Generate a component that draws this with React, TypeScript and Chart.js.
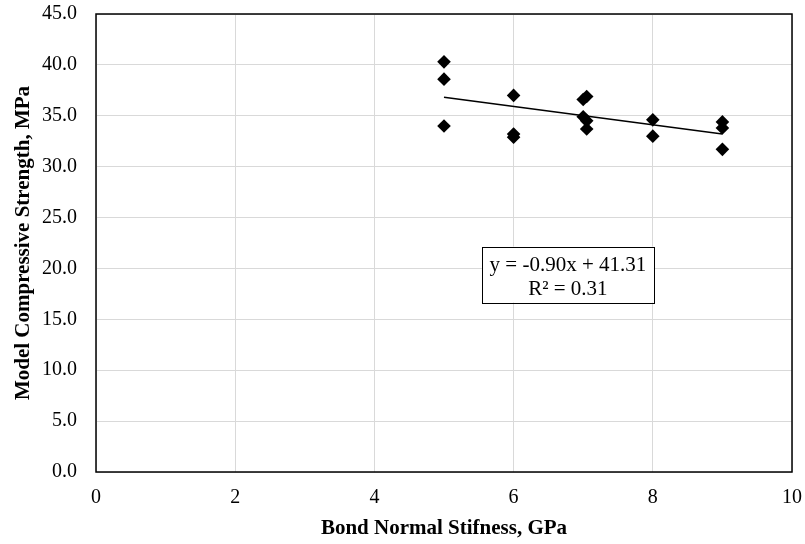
import React, { useEffect, useRef } from "react";
import { Chart, registerables } from "chart.js";

Chart.register(...registerables);

const stiffness = [5, 5, 5, 6, 6, 6, 7.0, 7.05, 7.0, 7.05, 7.05, 8, 8, 9, 9, 9];
const strength = [40.3, 38.6, 34.0, 37.0, 33.2, 32.9, 36.6, 36.9, 34.9, 34.5, 33.7, 34.6, 33.0, 34.4, 33.8, 31.7];
const trendSlope = -0.9;
const trendIntercept = 41.31;
const trendRange = [5, 9];
const equationLines = ["y = -0.90x + 41.31", "R² = 0.31"];
const equationAnchor = { x: 6.78, y: 19.4 };
const xTitle = "Bond Normal Stifness, GPa";
const yTitle = "Model Compressive Strength, MPa";

const FONT = "'Liberation Serif', 'Times New Roman', serif";

const frameAndBox = {
  id: "frameAndBox",
  beforeDatasetsDraw(chart: any) {
    const { ctx, chartArea } = chart;
    ctx.save();
    ctx.strokeStyle = "#000";
    ctx.lineWidth = 1.5;
    ctx.strokeRect(chartArea.left, chartArea.top, chartArea.right - chartArea.left, chartArea.bottom - chartArea.top);
    ctx.restore();
  },
  afterDraw(chart: any) {
    const { ctx, scales } = chart;
    const cx = scales.x.getPixelForValue(equationAnchor.x);
    const cy = scales.y.getPixelForValue(equationAnchor.y);
    ctx.save();
    ctx.font = `21px ${FONT}`;
    const w = 172;
    const h = 56;
    ctx.fillStyle = "#fff";
    ctx.fillRect(cx - w / 2, cy - h / 2, w, h);
    ctx.strokeStyle = "#000";
    ctx.lineWidth = 1;
    ctx.strokeRect(Math.round(cx - w / 2) + 0.5, Math.round(cy - h / 2) + 0.5, w, h);
    ctx.fillStyle = "#000";
    ctx.textAlign = "center";
    ctx.textBaseline = "middle";
    ctx.fillText(equationLines[0], cx, cy - 9);
    ctx.fillText(equationLines[1], cx, cy + 15);
    ctx.restore();
  },
};

export default function App() {
  const ref = useRef<HTMLCanvasElement>(null);
  useEffect(() => {
    if (!ref.current) return;
    const points = stiffness.map((x, i) => ({ x, y: strength[i] }));
    const trend = trendRange.map((x) => ({ x, y: trendSlope * x + trendIntercept }));
    const chart = new Chart(ref.current, {
      type: "scatter",
      data: {
        datasets: [
          {
            label: "data",
            data: points,
            pointStyle: "rectRot",
            pointRadius: 6.8,
            pointHoverRadius: 6.8,
            backgroundColor: "#000",
            borderColor: "#000",
            borderWidth: 0,
            showLine: false,
          },
          {
            label: "trend",
            data: trend,
            showLine: true,
            borderColor: "#000",
            borderWidth: 1.5,
            pointRadius: 0,
            fill: false,
          },
        ],
      },
      options: {
        animation: false,
        responsive: true,
        maintainAspectRatio: false,
        layout: { padding: { left: 0, top: 14, right: 13, bottom: 0 } },
        plugins: { legend: { display: false }, tooltip: { enabled: false } },
        scales: {
          x: {
            type: "linear",
            min: 0,
            max: 10,
            afterFit: (s: any) => { s.height = 72; s.paddingLeft = 0; s.paddingRight = 0; },
            ticks: { stepSize: 2, color: "#000", font: { family: FONT, size: 20 }, padding: 14 },
            grid: { color: "#d9d9d9", lineWidth: 1, drawTicks: false },
            border: { display: false },
            title: { display: true, text: xTitle, color: "#000", font: { family: FONT, size: 21, weight: "bold" }, padding: { top: 0, bottom: 3 } },
          },
          y: {
            type: "linear",
            min: 0,
            max: 45,
            afterFit: (s: any) => { s.width = 96; s.paddingTop = 0; s.paddingBottom = 0; },
            ticks: { stepSize: 5, color: "#000", font: { family: FONT, size: 20 }, padding: 19, callback: (v: any) => Number(v).toFixed(1) },
            grid: { color: "#d9d9d9", lineWidth: 1, drawTicks: false },
            border: { display: false },
            title: { display: true, text: yTitle, color: "#000", font: { family: FONT, size: 21, weight: "bold" }, padding: { top: 11, bottom: 0 } },
          },
        },
      },
      plugins: [frameAndBox],
    });
    return () => chart.destroy();
  }, []);
  return (
    <div style={{ position: "absolute", left: 0, top: 0, width: 805, height: 544, background: "#fff" }}>
      <canvas ref={ref} />
    </div>
  );
}
